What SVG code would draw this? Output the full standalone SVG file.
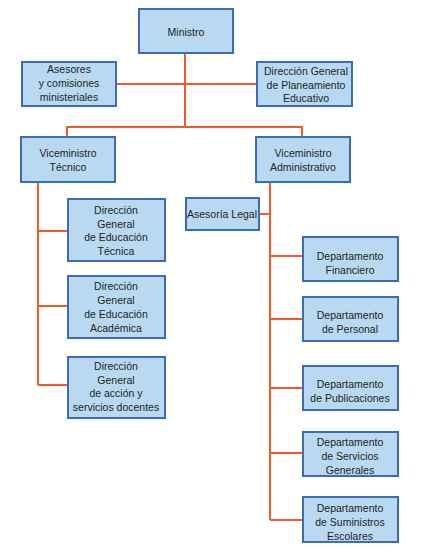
<svg xmlns="http://www.w3.org/2000/svg" width="423" height="549" viewBox="0 0 423 549">
<style>
.box{fill:#b9d9f3;stroke:#3a6db4;stroke-width:2}
.t{font-family:"Liberation Sans",Arial,sans-serif;font-size:10.5px;fill:#231f20;text-anchor:middle}
.c{fill:none;stroke:#f15a29;stroke-width:2}
</style>
<rect width="423" height="549" fill="#fff"/>
<g id="connectors">
<path class="c" d="M185 53V127M116 84H257M67 137V127H302V137"/>
<path class="c" d="M38 182V385M38 231H68M38 306H68M38 385H68"/>
<path class="c" d="M270 182V520M259 214H270M270 256H303M270 319H303M270 388H303M270 453H303M270 520H303"/>
</g>
<g id="ministro"><rect class="box" x="139" y="9" width="94" height="44"/><text class="t" x="186" y="36">Ministro</text></g>
<g id="asesores"><rect class="box" x="22" y="62" width="94" height="44"/><text class="t" x="69" y="73">Asesores</text><text class="t" x="69" y="87">y comisiones</text><text class="t" x="69" y="101">ministeriales</text></g>
<g id="planeamiento"><rect class="box" x="257" y="62" width="95" height="44"/><text class="t" x="306" y="75">Dirección General</text><text class="t" x="306" y="89">de Planeamiento</text><text class="t" x="306" y="102">Educativo</text></g>
<g id="vice-tecnico"><rect class="box" x="21" y="137" width="94" height="45"/><text class="t" x="68" y="157">Viceministro</text><text class="t" x="68" y="171">Técnico</text></g>
<g id="vice-admin"><rect class="box" x="256" y="137" width="94" height="45"/><text class="t" x="303" y="157">Viceministro</text><text class="t" x="303" y="171">Administrativo</text></g>
<g id="dg-tecnica"><rect class="box" x="68" y="199" width="97" height="62"/><text class="t" x="116" y="214">Dirección</text><text class="t" x="116" y="228">General</text><text class="t" x="116" y="241">de Educación</text><text class="t" x="116" y="255">Técnica</text></g>
<g id="dg-academica"><rect class="box" x="68" y="276" width="97" height="62"/><text class="t" x="116" y="290">Dirección</text><text class="t" x="116" y="304">General</text><text class="t" x="116" y="318">de Educación</text><text class="t" x="116" y="332">Académica</text></g>
<g id="dg-accion"><rect class="box" x="68" y="357" width="97" height="61"/><text class="t" x="116" y="370">Dirección</text><text class="t" x="116" y="384">General</text><text class="t" x="116" y="397">de acción y</text><text class="t" x="116" y="411">servicios docentes</text></g>
<g id="asesoria-legal"><rect class="box" x="186" y="198" width="73" height="32"/><text class="t" x="222" y="218">Asesoría Legal</text></g>
<g id="financiero"><rect class="box" x="303" y="237" width="95" height="44"/><text class="t" x="350" y="260">Departamento</text><text class="t" x="350" y="274">Financiero</text></g>
<g id="personal"><rect class="box" x="303" y="297" width="95" height="44"/><text class="t" x="350" y="319">Departamento</text><text class="t" x="350" y="333">de Personal</text></g>
<g id="publicaciones"><rect class="box" x="303" y="366" width="95" height="44"/><text class="t" x="350" y="388">Departamento</text><text class="t" x="350" y="402">de Publicaciones</text></g>
<g id="servicios"><rect class="box" x="303" y="432" width="95" height="44"/><text class="t" x="350" y="446">Departamento</text><text class="t" x="350" y="460">de Servicios</text><text class="t" x="350" y="474">Generales</text></g>
<g id="suministros"><rect class="box" x="303" y="497" width="95" height="45"/><text class="t" x="350" y="512">Departamento</text><text class="t" x="350" y="526">de Suministros</text><text class="t" x="350" y="540">Escolares</text></g>
</svg>
